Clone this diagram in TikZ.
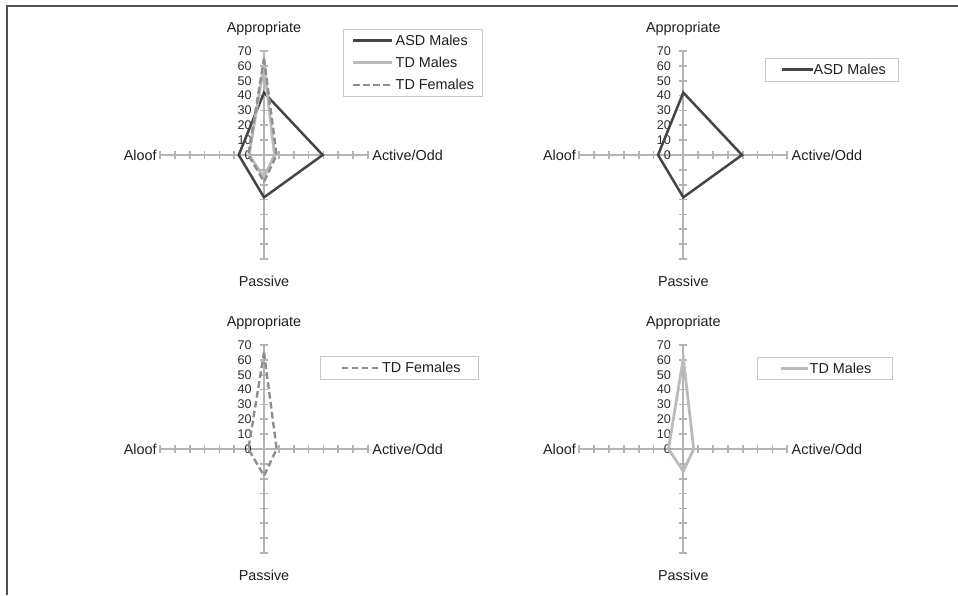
\documentclass[tikz,border=0pt]{standalone}
\usepackage{fontspec}
\setmainfont{Liberation Sans}
\definecolor{axisgray}{HTML}{B4B4B4}
\definecolor{asdcol}{HTML}{454545}
\definecolor{tdmcol}{HTML}{BBBBBB}
\definecolor{tdfcol}{HTML}{8E8E8E}
\definecolor{legcol}{HTML}{C8C8C8}
\definecolor{framecol}{HTML}{505050}
\newcommand\uu{1.486}
\newcommand\radaraxes[3]{%
  \begin{scope}[shift={(#1,#2)}]
    \draw[axis] (-104,0) -- (104,0);
    \draw[axis] (0,-104) -- (0,104);
    \foreach \k in {1,...,7} {
      \draw[axis] ({\k*14.86},-4) -- ({\k*14.86},4);
      \draw[axis] ({-\k*14.86},-4) -- ({-\k*14.86},4);
      \draw[axis] (-4,{\k*14.86}) -- (4,{\k*14.86});
      \draw[axis] (-4,{-\k*14.86}) -- (4,{-\k*14.86});
    }
    \foreach \k [evaluate=\k as \v using int(10*\k)] in {0,...,7}
      \node[num, anchor=east] (#3n\k) at (-12,{-\k*14.86}) {\v};
    \node[lbl] (#3app) at (0,-126) {Appropriate};
    \node[lbl] (#3pas) at (0,126) {Passive};
    \node[lbl, anchor=west] (#3act) at (108,0) {Active/Odd};
    \node[lbl, anchor=east] (#3alo) at (-107,0) {Aloof};
  \end{scope}}
\newcommand\asdpoly[2]{\draw[asd,shift={(#1,#2)}] (0,{-42*\uu}) -- ({39.5*\uu},0) -- (0,{28.5*\uu}) -- ({-17*\uu},0) -- cycle;}
\newcommand\tdmpoly[2]{\draw[tdm,shift={(#1,#2)}] (0,{-61*\uu}) -- ({7*\uu},0) -- (0,{15*\uu}) -- ({-10*\uu},0) -- cycle;}
\newcommand\tdfpoly[2]{\draw[tdf,shift={(#1,#2)}] (0,{-65*\uu}) -- ({8.5*\uu},0) -- (0,{18*\uu}) -- ({-10.5*\uu},0) -- cycle;}
\begin{document}
\begin{tikzpicture}[x=0.5pt,y=-0.5pt,
  axis/.style={draw=axisgray, line width=0.85pt},
  lbl/.style={font=\fontsize{7.2}{8}\selectfont, text=black!88, inner sep=0pt},
  num/.style={font=\fontsize{6.3}{7}\selectfont, text=black!82, inner sep=0pt},
  asd/.style={draw=asdcol, line width=1.25pt, line join=miter},
  tdm/.style={draw=tdmcol, line width=1.4pt},
  tdf/.style={draw=tdfcol, line width=1.2pt, dash pattern=on 3.3pt off 1.7pt},
  legbox/.style={draw=legcol, line width=0.5pt, fill=white},
  legtxt/.style={lbl, anchor=west}]
\useasboundingbox (0,0) rectangle (958,595);
% frame
\draw[framecol, line width=0.8pt] (7,595) -- (7,6) -- (958,6);

% chart 1 (top left)
\radaraxes{264}{155}{a}
\asdpoly{264}{155}
\tdmpoly{264}{155}
\tdfpoly{264}{155}
\node[legbox, minimum width=69.5pt, minimum height=33.3pt, anchor=north west] (alegend) at (343.3,29.3) {};
\draw[asd] (353.3,40.7) -- (391.7,40.7);
\node[legtxt] (al1) at (395.3,40.7) {ASD Males};
\draw[tdm] (353.3,62.7) -- (391.7,62.7);
\node[legtxt] (al2) at (395.3,62.7) {TD Males};
\draw[tdf] (353.3,84.7) -- (391.7,84.7);
\node[legtxt] (al3) at (395.3,84.7) {TD Females};

% chart 2 (top right)
\radaraxes{683.3}{155}{b}
\asdpoly{683.3}{155}
\node[legbox, minimum width=66.5pt, minimum height=11.5pt, anchor=north west] (blegend) at (765.3,57.7) {};
\draw[asd] (781.7,69.3) -- (812.7,69.3);
\node[legtxt] (bl1) at (813.3,69.3) {ASD Males};

% chart 3 (bottom left)
\radaraxes{264}{449}{c}
\tdfpoly{264}{449}
\node[legbox, minimum width=79pt, minimum height=11.5pt, anchor=north west] (clegend) at (320.3,356) {};
\draw[tdf] (341.7,367.7) -- (379.3,367.7);
\node[legtxt] (cl1) at (381.7,367.7) {TD Females};

% chart 4 (bottom right)
\radaraxes{683.3}{449}{d}
\tdmpoly{683.3}{449}
\node[legbox, minimum width=67.8pt, minimum height=11.3pt, anchor=north west] (dlegend) at (756.7,356.7) {};
\draw[tdm] (780.7,368.3) -- (808.3,368.3);
\node[legtxt] (dl1) at (809.3,368.3) {TD Males};
\end{tikzpicture}
\end{document}
